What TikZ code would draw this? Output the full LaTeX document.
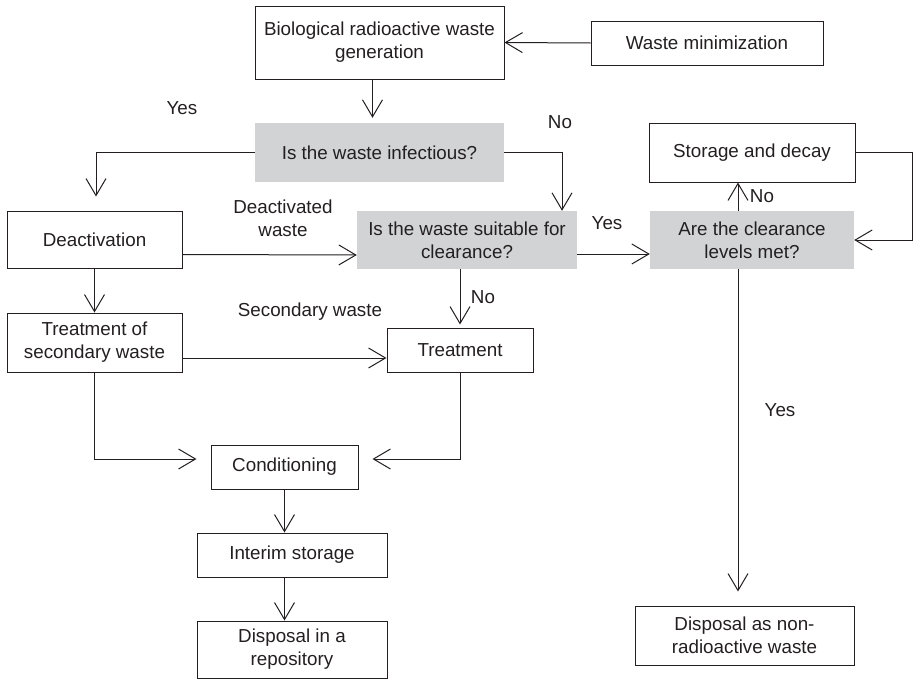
\documentclass[tikz,border=0pt]{standalone}
\usepackage{fontspec}
\setmainfont{Liberation Sans}
\usetikzlibrary{arrows.meta}
\definecolor{ink}{HTML}{231F20}
\definecolor{qgray}{HTML}{D1D3D4}
\tikzset{
  box/.style={draw=ink,line width=1pt,text=ink,align=center,inner sep=2pt},
  query/.style={fill=qgray,text=ink,align=center,inner sep=2pt},
  lbl/.style={text=ink,align=center,inner sep=0pt},
  flow/.style={draw=ink,line width=1pt,-{Straight Barb[length=17pt,width=20pt,line width=1pt]}}
}

\begin{document}
\begin{tikzpicture}[x=1pt,y=-1pt,font=\fontsize{18.8}{23}\selectfont]
\useasboundingbox (0,0) rectangle (913,680);
\node[box,minimum width=249pt,minimum height=73pt] (gen) at (379.5,42.5) {Biological radioactive waste\\generation};
\node[box,minimum width=232pt,minimum height=44pt] (wmin) at (707,43) {Waste minimization};
\node[query,minimum width=249pt,minimum height=59pt] (infect) at (379.5,152.5) {Is the waste infectious?};
\node[box,minimum width=175pt,minimum height=57pt] (deact) at (94.5,239.5) {Deactivation};
\node[query,minimum width=220pt,minimum height=58pt] (suit) at (467,240) {Is the waste suitable for\\clearance?};
\node[query,minimum width=204pt,minimum height=58pt] (clear) at (752,240) {Are the clearance\\levels met?};
\node[box,minimum width=206pt,minimum height=59pt] (store) at (752,152.5) {Storage and decay};
\node[box,minimum width=175pt,minimum height=59pt] (tsw) at (94.5,342.5) {Treatment of\\secondary waste};
\node[box,minimum width=146pt,minimum height=44pt] (treat) at (460,350) {Treatment};
\node[box,minimum width=147pt,minimum height=44pt] (cond) at (284.5,467) {Conditioning};
\node[box,minimum width=190pt,minimum height=44pt] (interim) at (292,555) {Interim storage};
\node[box,minimum width=190pt,minimum height=57pt] (repo) at (292,649.5) {Disposal in a\\repository};
\node[box,minimum width=219pt,minimum height=59pt] (nonrad) at (744.5,635.5) {Disposal as non-\\radioactive waste};

\draw[flow] (wmin.west) -- (gen.east);
\draw[flow,shorten >=5pt] ([xshift=-7pt]gen.south) -- ([xshift=-7pt]infect.north);
\draw[flow,shorten >=14pt] (infect.west) -| ([xshift=1.5pt]deact.north);
\draw[flow] (infect.east) -| ([xshift=95pt]suit.north);
\draw[flow] ([yshift=-15pt]deact.east) -- ([yshift=-15pt]suit.west);
\draw[flow] ([yshift=-14pt]suit.east) -- ([yshift=-14pt]clear.west);
\draw[flow] ([xshift=-14pt]clear.north) -- ([xshift=-14pt]store.south);
\draw[flow] (store.east) -- ++(57pt,0) |- (clear.east);
\draw[flow,shorten >=14pt] ([xshift=-14pt]clear.south) -- ([xshift=-14pt]clear.south |- nonrad.north);
\draw[flow] (deact.south) -- (tsw.north);
\draw[flow] ([yshift=-15.5pt]tsw.east) -- ([yshift=-15.5pt]tsw.east -| treat.west);
\draw[flow,shorten >=3pt] (treat.north |- suit.south) -- (treat.north);
\draw[flow,shorten >=14pt] (tsw.south) |- ([yshift=8pt]cond.west);
\draw[flow,shorten >=14pt] (treat.south) |- ([yshift=8pt]cond.east);
\draw[flow] (cond.south) -- (cond.south |- interim.north);
\draw[flow] (cond.south |- interim.south) -- (cond.south |- repo.north);

\foreach \pos/\txt in {{(182,108)}/Yes, {(560,122)}/No, {(283,218)}/Deactivated\\waste,
  {(607,223)}/Yes, {(762,196)}/No, {(483,297)}/No, {(310,312)}/Secondary waste, {(780,410)}/Yes}
  \node[lbl] at \pos {\txt};
\end{tikzpicture}
\end{document}
